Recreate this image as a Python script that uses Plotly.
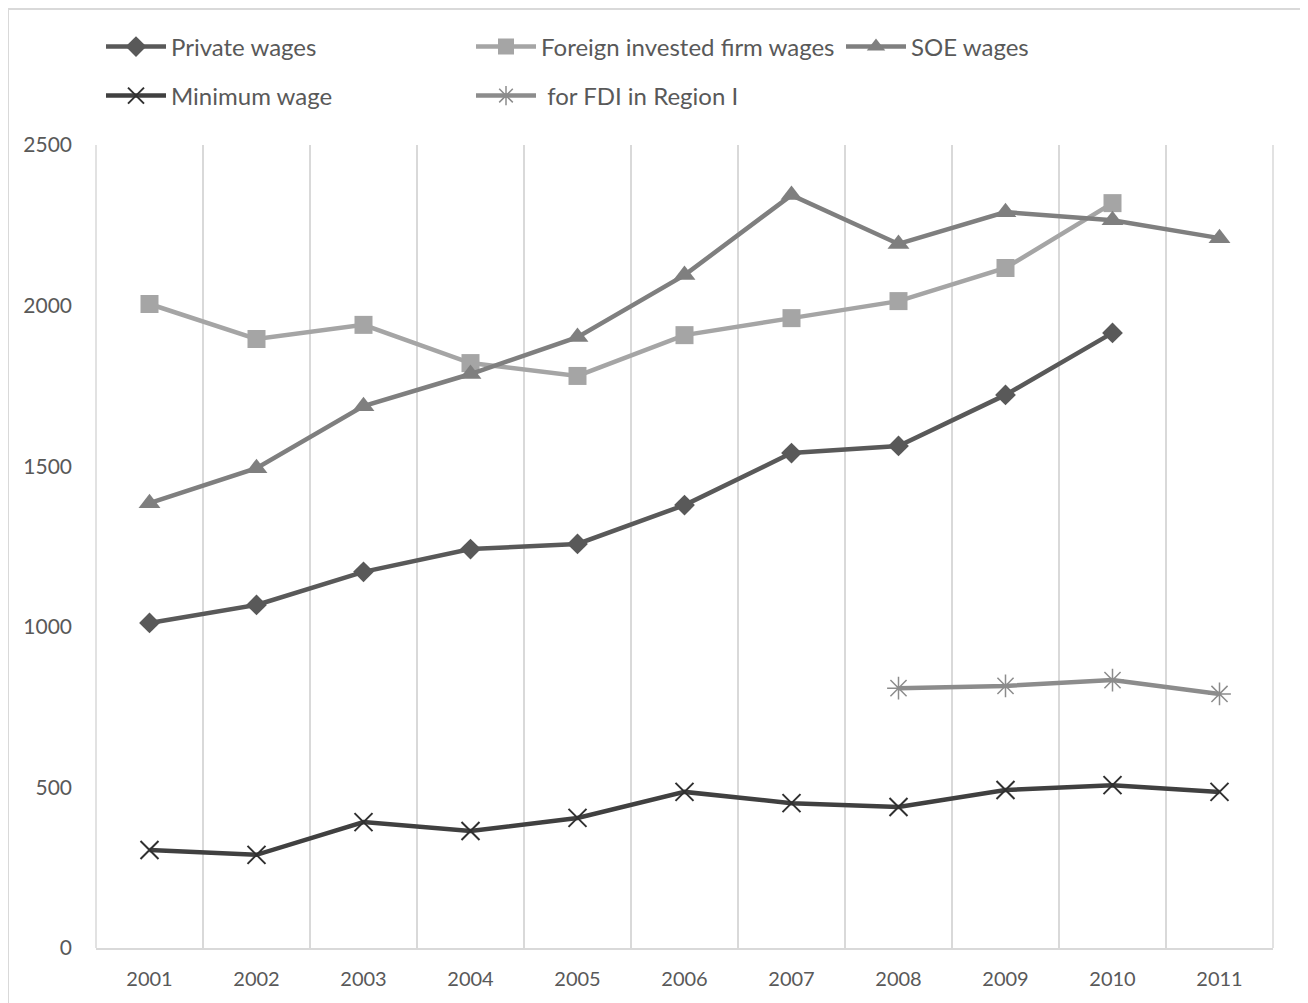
import plotly.graph_objects as go

years = ["2001", "2002", "2003", "2004", "2005", "2006", "2007", "2008", "2009", "2010", "2011"]
private_wages = [1012, 1068, 1171, 1242, 1258, 1379, 1541, 1563, 1722, 1915, None]
foreign_wages = [2005, 1896, 1940, 1821, 1781, 1908, 1961, 2014, 2117, 2319, None]
soe_wages = [1385, 1494, 1687, 1787, 1902, 2095, 2344, 2192, 2291, 2266, 2210]
minimum_wage = [305, 290, 392, 364, 405, 486, 451, 439, 492, 507, 486]
fdi_region1 = [None, None, None, None, None, None, None, 809, 816, 834, 791]

FONT = "Lato"
TXT = "#595959"
GRID = "#D9D9D9"

fig = go.Figure()

def add(name, y, color, symbol, size, legend, mline=0, mcolor=None):
    fig.add_trace(go.Scatter(
        x=years, y=y, name=name, mode="lines+markers",
        line=dict(color=color, width=4.5),
        marker=dict(symbol=symbol, size=size, color=mcolor or color,
                    line=dict(width=mline, color=mcolor or color)),
        connectgaps=False, legend=legend,
    ))

add("Private wages", private_wages, "#595959", "diamond", 16, "legend")
add("Foreign invested firm wages", foreign_wages, "#A5A5A5", "square", 18, "legend")
add("SOE wages", soe_wages, "#7F7F7F", "triangle-up", 19, "legend")
add("Minimum wage", minimum_wage, "#404040", "x-thin-open", 18, "legend2", 2, "#303030")
add(" for FDI in Region I", fdi_region1, "#8C8C8C", "asterisk-open", 19, "legend2", 1.5, "#8C8C8C")

PA_W, PA_H = 1177, 803
leg_common = dict(
    orientation="h", x=5 / PA_W, xanchor="left", yanchor="middle",
    entrywidth=295, entrywidthmode="pixels", itemwidth=60,
    font=dict(family=FONT, size=24, color=TXT),
    traceorder="normal", bgcolor="rgba(0,0,0,0)",
)

edge = dict(type="line", xref="paper", yref="paper", y0=0, y1=1,
            line=dict(color=GRID, width=1.5), layer="below")

fig.update_layout(
    width=1300, height=995,
    margin=dict(l=88, r=35, t=137, b=55),
    paper_bgcolor="white", plot_bgcolor="white",
    font=dict(family=FONT, color=TXT, size=20),
    showlegend=True,
    legend=dict(leg_common, y=1 + (145 - 47) / PA_H),
    legend2=dict(leg_common, y=1 + (145 - 96) / PA_H),
    xaxis=dict(
        type="category", tickson="boundaries", showgrid=True,
        gridcolor=GRID, gridwidth=1.5, ticks="", range=[-0.5, 10.5],
        showline=True, linecolor=GRID, linewidth=1.5, mirror=False,
        tickfont=dict(family=FONT, size=20, color=TXT), zeroline=False,
        ticklabelstandoff=12,
    ),
    yaxis=dict(
        range=[0, 2500], dtick=500, showgrid=False, zeroline=False,
        showline=False, ticks="", ticklabelstandoff=23,
        tickfont=dict(family=FONT, size=21, color=TXT),
    ),
    shapes=[
        dict(type="rect", xref="paper", yref="paper",
             x0=-88 / PA_W, x1=(1295 - 88) / PA_W, y0=-80 / PA_H, y1=1 + 136 / PA_H,
             line=dict(color=GRID, width=2), fillcolor="rgba(0,0,0,0)", layer="below"),
        dict(edge, x0=0, x1=0),
        dict(edge, x0=1, x1=1),
    ],
)

fig.write_html("out.html")
